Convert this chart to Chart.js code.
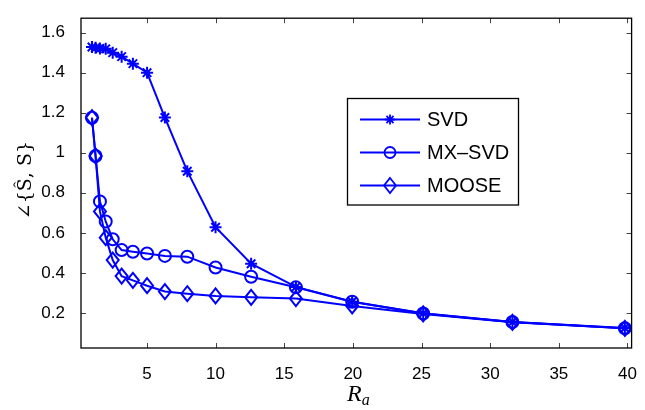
<!DOCTYPE html>
<html>
<head>
<meta charset="utf-8">
<script src="https://cdn.jsdelivr.net/npm/chart.js@4/dist/chart.umd.min.js"></script>
<style>
  body { margin: 0; background: #fff; }
  canvas { display: block; }
</style>
</head>
<body>
<canvas id="canvas" width="645" height="410"></canvas>
<script>
// R_a values (10^(k/10))
const ra = [1, 1.26, 1.58, 2, 2.51, 3.16, 3.98, 5.01, 6.31, 7.94, 10, 12.59, 15.85, 19.95, 25.12, 31.62, 39.81]
const svd = [1.528, 1.524, 1.521, 1.519, 1.50, 1.48, 1.445, 1.40, 1.176, 0.908, 0.628, 0.446, 0.330, 0.256, 0.198, 0.155, 0.125]
const mxsvd = [1.175, 0.984, 0.757, 0.657, 0.568, 0.514, 0.506, 0.497, 0.485, 0.481, 0.427, 0.381, 0.328, 0.256, 0.197, 0.155, 0.124]
const moose = [1.175, 0.984, 0.707, 0.576, 0.464, 0.384, 0.363, 0.336, 0.307, 0.296, 0.285, 0.278, 0.272, 0.235, 0.195, 0.153, 0.123]
const seriesNames = ['SVD', 'MX\u2013SVD', 'MOOSE']
const xTicks = [5, 10, 15, 20, 25, 30, 35, 40]
const yTicks = [0.2, 0.4, 0.6, 0.8, 1, 1.2, 1.4, 1.6]

const blue = '#0000ff'

function pts(ys) {
  return ra.map((x, i) => ({x: x, y: ys[i]}))
}

// MATLAB style diamond, a bit taller than wide
function drawDiamond(ctx, x, y) {
  ctx.beginPath()
  ctx.moveTo(x, y - 7.5)
  ctx.lineTo(x + 6, y)
  ctx.lineTo(x, y + 7.5)
  ctx.lineTo(x - 6, y)
  ctx.closePath()
  ctx.stroke()
}

function drawMarker(ctx, style, x, y) {
  ctx.save()
  ctx.strokeStyle = blue
  ctx.lineWidth = 1.8
  if (style == 'star') {
    const r = 5
    ctx.beginPath()
    for (let a = 0; a < 4; a++) {
      const ang = a * Math.PI / 4
      ctx.moveTo(x - r * Math.cos(ang), y - r * Math.sin(ang))
      ctx.lineTo(x + r * Math.cos(ang), y + r * Math.sin(ang))
    }
    ctx.stroke()
  } else if (style == 'circle') {
    ctx.beginPath()
    ctx.arc(x, y, 5.5, 0, Math.PI * 2)
    ctx.stroke()
  } else {
    drawDiamond(ctx, x, y)
  }
  ctx.restore()
}

const boxPlugin = {
  id: 'box',
  afterDatasetsDraw(chart) {
    // diamonds for the MOOSE series, at the points chart.js placed
    const ctx = chart.ctx
    const meta = chart.getDatasetMeta(2)
    ctx.save()
    ctx.strokeStyle = blue
    ctx.lineWidth = 2
    meta.data.forEach(p => drawDiamond(ctx, p.x, p.y))
    ctx.restore()
  },
  afterDraw(chart) {
    const ctx = chart.ctx
    const a = chart.chartArea
    const xs = chart.scales.x, ys = chart.scales.y
    ctx.save()
    // inward ticks
    ctx.strokeStyle = '#444'
    ctx.lineWidth = 1
    ctx.beginPath()
    xTicks.forEach(v => {
      const px = Math.round(xs.getPixelForValue(v)) + 0.5
      ctx.moveTo(px, a.bottom); ctx.lineTo(px, a.bottom - 5)
      ctx.moveTo(px, a.top); ctx.lineTo(px, a.top + 5)
    })
    yTicks.forEach(v => {
      const py = Math.round(ys.getPixelForValue(v)) + 0.5
      ctx.moveTo(a.left, py); ctx.lineTo(a.left + 5, py)
      ctx.moveTo(a.right, py); ctx.lineTo(a.right - 5, py)
    })
    ctx.stroke()
    // frame
    ctx.strokeStyle = '#000'
    ctx.lineWidth = 1.3
    ctx.strokeRect(a.left, a.top, a.right - a.left, a.bottom - a.top)

    // legend
    const lx = 347.5, ly = 98.5, lw = 171, lh = 106.5
    ctx.fillStyle = '#fff'
    ctx.fillRect(lx, ly, lw, lh)
    ctx.strokeStyle = '#000'
    ctx.lineWidth = 1.3
    ctx.strokeRect(lx, ly, lw, lh)
    const styles = ['star', 'circle', 'diamond']
    ctx.font = '20px "Liberation Sans", Arial, sans-serif'
    ctx.textBaseline = 'middle'
    ctx.textAlign = 'left'
    seriesNames.forEach((name, i) => {
      const ry = 119.5 + i * 33
      ctx.strokeStyle = blue
      ctx.lineWidth = 2
      ctx.beginPath()
      ctx.moveTo(360, ry); ctx.lineTo(420, ry)
      ctx.stroke()
      drawMarker(ctx, styles[i], 390, ry)
      ctx.fillStyle = '#000'
      ctx.fillText(name, 427, ry + 1)
    })

    // axis titles
    ctx.fillStyle = '#000'
    ctx.textBaseline = 'alphabetic'
    ctx.font = 'italic 24px "Liberation Serif", "DejaVu Serif", serif'
    const rw = ctx.measureText('R').width
    const cx = (a.left + a.right) / 2
    ctx.fillText('R', cx - rw / 2 - 2, 401)
    ctx.font = 'italic 16px "Liberation Serif", "DejaVu Serif", serif'
    ctx.fillText('a', cx + rw / 2 - 2, 405)

    ctx.translate(31, (a.top + a.bottom) / 2 - 3)
    ctx.rotate(-Math.PI / 2)
    ctx.textAlign = 'center'
    ctx.font = '19px "DejaVu Serif", "Liberation Serif", serif'
    ctx.fillText('\u2220{\u015C, S}', 0, 0)
    ctx.restore()
  }
}

function ds(label, ys, style) {
  return {
    label: label,
    data: pts(ys),
    borderColor: blue,
    backgroundColor: 'rgba(0,0,0,0)',
    borderWidth: 2,
    pointStyle: style,
    pointRadius: style ? 6 : 0,
    pointBorderWidth: 2,
    pointBorderColor: blue,
    pointBackgroundColor: 'rgba(0,0,0,0)',
    tension: 0,
    clip: false
  }
}

const ctx = document.getElementById('canvas').getContext('2d')
const tickFont = {family: '"Liberation Sans", Arial, sans-serif', size: 17}
new Chart(ctx, {
  type: 'line',
  data: {
    datasets: [
      ds(seriesNames[0], svd, 'star'),
      ds(seriesNames[1], mxsvd, 'circle'),
      ds(seriesNames[2], moose, null)
    ]
  },
  options: {
    responsive: false,
    animation: false,
    layout: {padding: {top: 5, right: 8, left: 0, bottom: 0}},
    plugins: {legend: {display: false}, tooltip: {enabled: false}},
    scales: {
      x: {
        type: 'linear', min: 0.2, max: 40.3,
        grid: {display: false}, border: {display: false},
        afterBuildTicks: s => { s.ticks = xTicks.map(v => ({value: v})) },
        afterFit: s => { s.height = 62 },
        ticks: {color: '#000', font: tickFont, padding: 8, maxRotation: 0, autoSkip: false}
      },
      y: {
        type: 'linear', min: 0.025, max: 1.672,
        grid: {display: false}, border: {display: false},
        afterBuildTicks: s => { s.ticks = yTicks.map(v => ({value: v})) },
        afterFit: s => { s.width = 81 },
        ticks: {color: '#000', font: tickFont, padding: 8, autoSkip: false,
          callback: v => String(Math.round(v * 10) / 10)}
      }
    }
  },
  plugins: [boxPlugin]
})
</script>
</body>
</html>
